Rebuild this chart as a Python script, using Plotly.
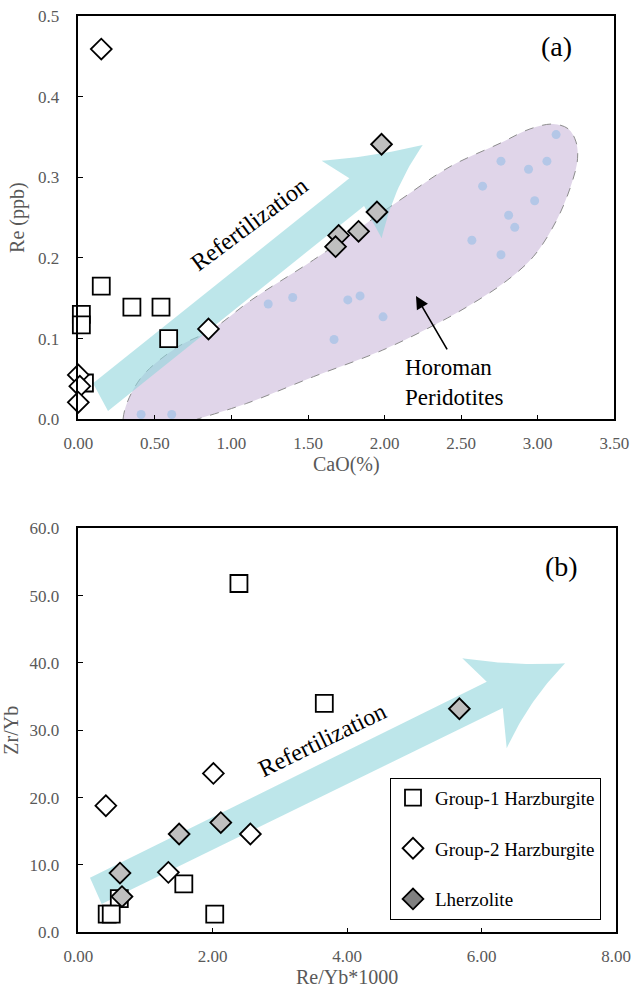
import numpy as np
import plotly.graph_objects as go

# ---------------- data: panel (a) ----------------
g1_cao = [0.15, 0.02, 0.02, 0.35, 0.54, 0.59, 0.04]
g1_re = [0.165, 0.130, 0.117, 0.139, 0.139, 0.100, 0.045]
g2_cao = [0.15, 0.85, 0.00, 0.01, 0.00]
g2_re = [0.459, 0.112, 0.055, 0.041, 0.021]
lz_cao = [1.98, 1.95, 1.83, 1.70, 1.68]
lz_re = [0.341, 0.257, 0.233, 0.228, 0.214]
hor_cao = [0.41, 0.61, 1.24, 1.40, 1.67, 1.76, 1.84, 1.99, 2.57, 2.76,
           2.64, 2.76, 2.94, 3.06, 3.12, 2.98, 2.81, 2.85]
hor_re = [0.006, 0.006, 0.143, 0.151, 0.099, 0.148, 0.153, 0.127, 0.222, 0.204,
          0.289, 0.320, 0.310, 0.320, 0.353, 0.271, 0.253, 0.238]

# ---------------- data: panel (b) ----------------
g1_reyb = [2.39, 3.66, 1.57, 0.61, 0.43, 0.49, 2.03]
g1_zryb = [51.8, 34.0, 7.2, 5.0, 2.7, 2.7, 2.7]
g2_reyb = [0.41, 2.01, 2.56, 1.34]
g2_zryb = [18.8, 23.6, 14.6, 8.9]
lz_reyb = [1.50, 2.12, 0.62, 0.65, 5.67]
lz_zryb = [14.6, 16.3, 8.8, 5.3, 33.2]

names = ["Group-1 Harzburgite", "Group-2 Harzburgite", "Lherzolite"]

# ---------------- decorations (region outline / arrows, data units) ----------------
horoman_outline = [
    (0.292, 0.000), (0.303, 0.0115), (0.346, 0.0322), (0.434, 0.057), (0.651, 0.090),
    (0.868, 0.1107), (1.130, 0.1479), (1.535, 0.1975), (2.101, 0.2719), (2.427, 0.3132),
    (2.754, 0.3422), (2.95, 0.3600), (3.10, 0.3660), (3.20, 0.3600), (3.25, 0.3440),
    (3.26, 0.3230), (3.222, 0.2926),
    (3.124, 0.2471), (2.971, 0.2016), (2.775, 0.1686), (2.558, 0.1417), (2.362, 0.1206),
    (1.985, 0.0856), (1.535, 0.0528), (1.100, 0.0198), (0.773, 0.000)]

arrow_a = dict(lo=(0.194, 0.0103), hi=(0.096, 0.0446), nhi=(1.770, 0.2988),
               bl=(1.589, 0.3206), c1=(1.918, 0.3252), tip=(2.249, 0.3401),
               c2=(2.055, 0.2871), bb=(1.981, 0.2244), nlo=(1.866, 0.2644))
arrow_b = dict(lo=(0.348, 4.20), hi=(0.174, 8.11), nhi=(6.077, 37.22),
               bl=(5.713, 40.69), c1=(6.477, 39.54), tip=(7.242, 39.95),
               c2=(6.699, 34.40), bb=(6.374, 27.33), nlo=(6.315, 33.31))


def qbez(p0, c, p1, n=30):
    t = np.linspace(0, 1, n)
    x = (1 - t) ** 2 * p0[0] + 2 * (1 - t) * t * c[0] + t ** 2 * p1[0]
    y = (1 - t) ** 2 * p0[1] + 2 * (1 - t) * t * c[1] + t ** 2 * p1[1]
    return list(x), list(y)


def arrow_poly(a):
    xs = [a["lo"][0], a["hi"][0], a["nhi"][0]]
    ys = [a["lo"][1], a["hi"][1], a["nhi"][1]]
    bx, by = qbez(a["bl"], a["c1"], a["tip"])
    xs += bx; ys += by
    bx, by = qbez(a["tip"], a["c2"], a["bb"])
    xs += bx[1:]; ys += by[1:]
    xs += [a["nlo"][0], a["lo"][0]]
    ys += [a["nlo"][1], a["lo"][1]]
    return xs, ys


SERIF = "Times New Roman, Liberation Serif, Tinos, serif"
GRAY_TXT = "#595959"
ARROW_FILL = "rgba(145,213,220,0.6)"
LZ_FILL = "#bfbfbf"

fig = go.Figure()

# Horoman field
fig.add_trace(go.Scatter(
    x=[p[0] for p in horoman_outline], y=[p[1] for p in horoman_outline],
    mode="lines", line=dict(color="#8c8c8c", width=1, dash="dash", shape="spline"),
    fill="toself", fillcolor="rgb(224,213,233)", hoverinfo="skip",
    showlegend=False, xaxis="x", yaxis="y"))

# Horoman dots
fig.add_trace(go.Scatter(
    x=hor_cao, y=hor_re, mode="markers",
    marker=dict(size=9, color="#b4c7e7"), showlegend=False,
    xaxis="x", yaxis="y"))

# arrows
for arr, xa, ya in [(arrow_a, "x", "y"), (arrow_b, "x2", "y2")]:
    ax_, ay_ = arrow_poly(arr)
    fig.add_trace(go.Scatter(
        x=ax_, y=ay_, mode="lines", line=dict(width=0, color=ARROW_FILL),
        fill="toself", fillcolor=ARROW_FILL, hoverinfo="skip",
        showlegend=False, xaxis=xa, yaxis=ya))

sq = dict(symbol="square", size=17, color="white", line=dict(color="black", width=1.8))
dm = dict(symbol="diamond", size=16, color="white", line=dict(color="black", width=1.8))
dz = dict(symbol="diamond", size=16, color=LZ_FILL, line=dict(color="black", width=1.8))

for xa, ya, data in [
    ("x", "y", [(g1_cao, g1_re, sq), (g2_cao, g2_re, dm), (lz_cao, lz_re, dz)]),
    ("x2", "y2", [(g1_reyb, g1_zryb, sq), (g2_reyb, g2_zryb, dm), (lz_reyb, lz_zryb, dz)]),
]:
    for (xs, ys, mk) in data:
        fig.add_trace(go.Scatter(x=xs, y=ys, mode="markers", marker=mk,
                                 showlegend=False, cliponaxis=False,
                                 xaxis=xa, yaxis=ya))

# legend-only entries
leg_markers = [sq, dm, dict(dz, color="#808080")]
for i, (nm, mk) in enumerate(zip(names, leg_markers)):
    fig.add_trace(go.Scatter(x=[None], y=[None], mode="markers", marker=mk,
                             name=nm, legendgroup=nm, showlegend=True,
                             xaxis="x2", yaxis="y2"))

W, H = 635, 991


def px_x(p):
    return p / W


def px_y(p):
    return 1 - p / H


axis_common = dict(
    showgrid=False, zeroline=False, showline=True, linecolor="black", linewidth=1.5,
    mirror=True, ticks="inside", ticklen=5, tickwidth=1.3, tickcolor="black",
    automargin=False,
    tickfont=dict(family=SERIF, size=17, color=GRAY_TXT),
    title_font=dict(family=SERIF, size=20, color=GRAY_TXT),
)

fig.update_layout(
    width=W, height=H, margin=dict(l=0, r=0, t=0, b=0, autoexpand=False),
    paper_bgcolor="white", plot_bgcolor="white",
    font=dict(family=SERIF),
    xaxis=dict(axis_common, domain=[px_x(78.3), px_x(614.3)], range=[0, 3.5], dtick=0.5,
               tickformat=".2f", anchor="y", title=dict(text="CaO(%)", standoff=1),
               ticklabelstandoff=8),
    yaxis=dict(axis_common, domain=[px_y(419.3), px_y(16)], range=[0, 0.5], dtick=0.1,
               tickformat=".1f", anchor="x", title=dict(text="Re (ppb)", standoff=8),
               ticklabelstandoff=14),
    xaxis2=dict(axis_common, domain=[px_x(78.3), px_x(616)], range=[0, 8], dtick=2,
                tickformat=".2f", anchor="y2", title=dict(text="Re/Yb*1000", standoff=5),
                ticklabelstandoff=8),
    yaxis2=dict(axis_common, domain=[px_y(932.3), px_y(528.3)], range=[0, 60], dtick=10,
                tickformat=".1f", anchor="x2", title=dict(text="Zr/Yb", standoff=8),
                ticklabelstandoff=14),
    legend=dict(x=px_x(390), y=px_y(777.7), xanchor="left", yanchor="top",
                bordercolor="black", borderwidth=1, bgcolor="white",
                font=dict(family=SERIF, size=19, color="black"),
                tracegroupgap=23, itemsizing="trace", itemwidth=34),
)

ann = [
    dict(text="(a)", x=px_x(556), y=px_y(46.7), xref="paper", yref="paper",
         xanchor="center", yanchor="middle",
         showarrow=False, font=dict(family=SERIF, size=28, color="black")),
    dict(text="(b)", x=px_x(561), y=px_y(566.7), xref="paper", yref="paper",
         xanchor="center", yanchor="middle",
         showarrow=False, font=dict(family=SERIF, size=28, color="black")),
    dict(text="Horoman<br>Peridotites", x=px_x(402.7), y=px_y(382), xref="paper", yref="paper",
         xanchor="left", yanchor="middle", align="left", showarrow=False,
         font=dict(family=SERIF, size=23, color="black")),
    dict(text="Refertilization", x=1.118, y=0.242, xref="x", yref="y", textangle=-36.7,
         showarrow=False, font=dict(family=SERIF, size=24, color="black")),
    dict(text="Refertilization", x=3.626, y=28.56, xref="x2", yref="y2", textangle=-26,
         showarrow=False, font=dict(family=SERIF, size=24, color="black")),
    dict(text="", x=2.205, y=0.1529, xref="x", yref="y", ax=32, ay=55,
         showarrow=True, arrowhead=2, arrowsize=1.6, arrowwidth=1.6, arrowcolor="black"),
]
fig.update_layout(annotations=ann)

fig.write_html("out.html")
